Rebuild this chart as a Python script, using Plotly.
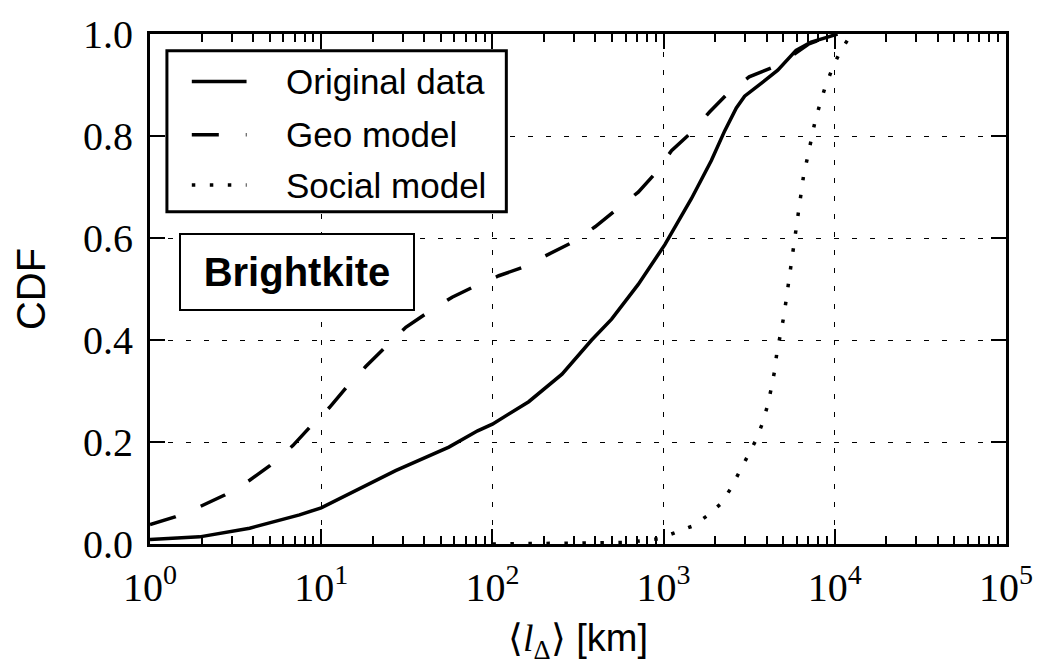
import plotly.graph_objects as go

# ---- data ----
orig_x = [1, 1.95, 3.82, 7.47, 10, 14.6, 27.2, 55.7, 82, 100, 163, 255, 380, 497, 711, 1017,
          1216, 1453, 1901, 2274, 2660, 2973, 3715, 4644, 5937, 7265, 9084, 10375]
orig_y = [0.009, 0.014, 0.031, 0.057, 0.071, 0.099, 0.144, 0.19, 0.222, 0.235, 0.279, 0.333, 0.40,
          0.441, 0.509, 0.587, 0.633, 0.677, 0.752, 0.81, 0.855, 0.878, 0.903, 0.929, 0.968, 0.984,
          0.994, 1.0]

geo_x = [1, 1.4, 1.95, 2.73, 3.82, 4.99, 6.83, 8.53, 11.2, 13.96, 18.2, 23.9, 31.2, 40.7, 58.2,
         76.2, 109, 149, 213, 291, 398, 520, 711, 889, 1112, 1453, 1855, 2376, 3160, 4444, 5500,
         7000, 10000]
geo_y = [0.038, 0.053, 0.073, 0.096, 0.125, 0.153, 0.193, 0.228, 0.268, 0.306, 0.348, 0.387, 0.425,
         0.451, 0.484, 0.503, 0.526, 0.542, 0.569, 0.591, 0.622, 0.653, 0.69, 0.726, 0.771, 0.807,
         0.847, 0.884, 0.916, 0.936, 0.955, 0.98, 1.0]

soc_x = [100, 300, 600, 930, 1174, 1473, 1793, 2144, 2461, 2755, 3080, 3430, 3765, 4027, 4248,
         4443, 4584, 4816, 5016, 5196, 5386, 5555, 5733, 5937, 6130, 6350, 6580, 6940, 7320, 7660,
         8190, 8790, 9610, 10620, 12070, 13000]
soc_y = [0.0, 0.001, 0.003, 0.01, 0.022, 0.035, 0.055, 0.078, 0.108, 0.139, 0.17, 0.201, 0.235,
         0.269, 0.304, 0.338, 0.374, 0.409, 0.443, 0.478, 0.514, 0.549, 0.584, 0.619, 0.655, 0.689,
         0.724, 0.759, 0.794, 0.828, 0.863, 0.896, 0.93, 0.962, 0.992, 1.0]

series_names = ["Original data", "Geo model", "Social model"]
x_tickvals = [1, 10, 100, 1000, 10000, 100000]
x_ticktext = ["10<sup>0</sup>", "10<sup>1</sup>", "10<sup>2</sup>", "10<sup>3</sup>",
              "10<sup>4</sup>", "10<sup>5</sup>"]
y_tickvals = [0, 0.2, 0.4, 0.6, 0.8, 1.0]
y_ticktext = ["0.0", "0.2", "0.4", "0.6", "0.8", "1.0"]

SERIF = "Liberation Serif"
SANS = "Liberation Sans"
DASHES = ["solid", "27px,27px", "3.5px,14.5px"]
LW = 3.5

# plot-area geometry (pixels) used to place the legend box in paper coordinates
L, R, T, B = 150, 1010, 28, 544.5
def px(xp):
    return (xp - L) / (R - L)
def py(yp):
    return (B - yp) / (B - T)

fig = go.Figure()
for i, (xs, ys) in enumerate([(orig_x, orig_y), (geo_x, geo_y), (soc_x, soc_y)]):
    fig.add_trace(go.Scatter(
        x=xs, y=ys, mode="lines", name=series_names[i], showlegend=False,
        line=dict(color="black", width=LW, dash=DASHES[i]),
    ))

axis_common = dict(
    showline=True, linewidth=3, linecolor="black", mirror="allticks",
    ticks="inside", tickcolor="black", tickwidth=1.5, ticklen=15,
    showgrid=True, gridcolor="black", gridwidth=1.2, griddash="5px,13px",
    zeroline=False,
)

fig.update_xaxes(
    type="log", range=[0, 5], tickvals=x_tickvals, ticktext=x_ticktext,
    tickfont=dict(family=SERIF, size=40, color="black"), ticklabelstandoff=6,
    minor=dict(ticks="inside", ticklen=8, tickwidth=1.5, tickcolor="black",
               dtick="D1", showgrid=False),
    title=dict(text="<span style='font-family:Liberation Serif'>⟨<i>l</i><sub>Δ</sub>⟩</span> [km]",
               font=dict(family=SANS, size=38, color="black"), standoff=16),
    **axis_common,
)
fig.update_yaxes(
    range=[0, 1], tickvals=y_tickvals, ticktext=y_ticktext,
    tickfont=dict(family=SERIF, size=40, color="black"), ticklabelstandoff=6,
    title=dict(text="CDF", font=dict(family=SANS, size=40, color="black"), standoff=26),
    **axis_common,
)

# legend drawn as a boxed key in the upper-left corner
fig.add_shape(type="rect", xref="paper", yref="paper",
              x0=px(167), x1=px(508), y0=py(208), y1=py(45),
              line=dict(color="black", width=3), fillcolor="white", layer="above")
row_y = [76, 130, 181]
for i, name in enumerate(series_names):
    fig.add_shape(type="line", xref="paper", yref="paper",
                  x0=px(192), x1=px(247), y0=py(row_y[i]), y1=py(row_y[i]),
                  line=dict(color="black", width=LW, dash=DASHES[i]), layer="above")
    fig.add_annotation(text=name, xref="paper", yref="paper",
                       x=px(285), y=py(row_y[i]), xanchor="left", yanchor="middle",
                       showarrow=False, font=dict(family=SANS, size=35, color="black"))

fig.add_annotation(
    text="<b>Brightkite</b>", xref="paper", yref="paper",
    x=px(298), y=py(269), xanchor="center", yanchor="middle",
    showarrow=False, font=dict(family=SANS, size=40, color="black"),
    bordercolor="black", borderwidth=2, borderpad=1, bgcolor="white",
    width=230, height=72,
)

fig.update_layout(
    width=1045, height=668,
    margin=dict(l=L, r=1045 - R, t=T, b=668 - B),
    plot_bgcolor="white", paper_bgcolor="white",
    showlegend=False,
)

fig.write_html("out.html")
